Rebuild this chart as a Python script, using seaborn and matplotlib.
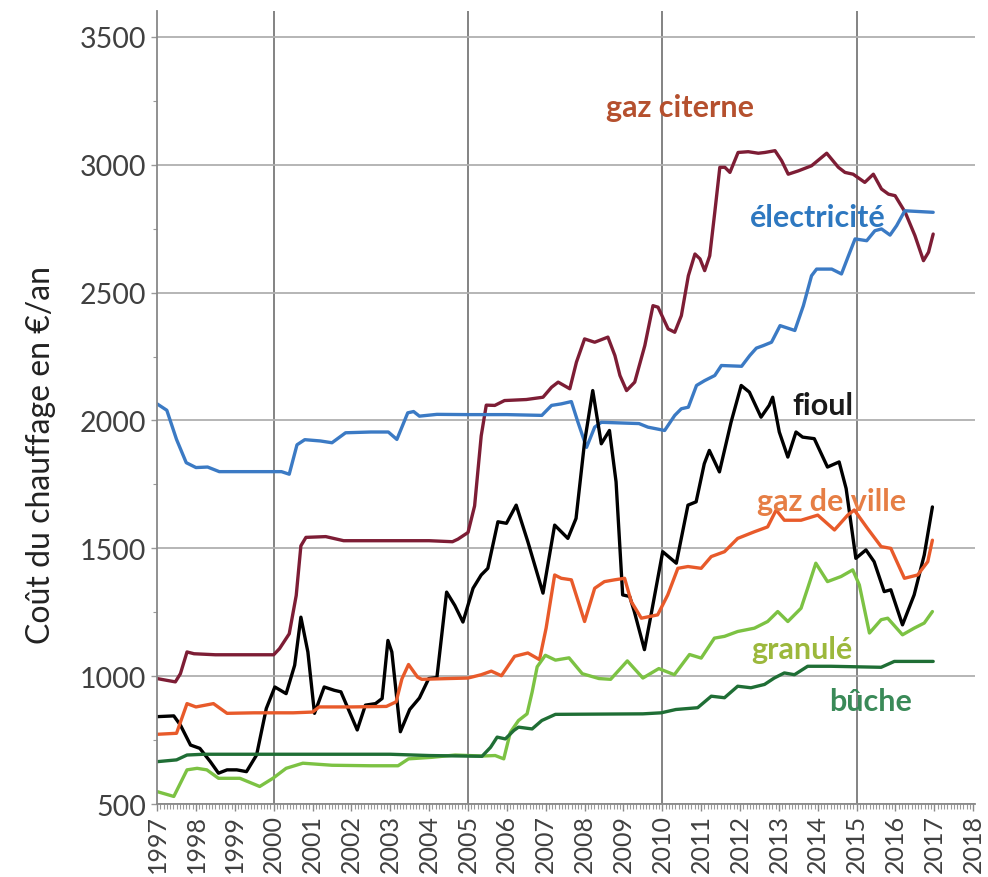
import numpy as np
import pandas as pd
import matplotlib
matplotlib.use("Agg")
import matplotlib.pyplot as plt
from matplotlib.ticker import MultipleLocator
import seaborn as sns

# ---------------- data ----------------
elec_t = [1997.0, 1997.25, 1997.5, 1997.75, 1998.0, 1998.3, 1998.6, 1999.5, 2000.2, 2000.4, 2000.6, 2000.8,
          2001.2, 2001.5, 2001.85, 2002.5, 2002.95, 2003.17, 2003.45, 2003.6, 2003.75, 2004.2, 2005.0, 2006.0,
          2006.9, 2007.15, 2007.4, 2007.66, 2007.83, 2008.05, 2008.26, 2008.43, 2009.0, 2009.4, 2009.63,
          2010.06, 2010.32, 2010.49, 2010.67, 2010.88, 2011.09, 2011.35, 2011.52, 2012.04, 2012.25, 2012.42,
          2012.6, 2012.81, 2013.03, 2013.41, 2013.63, 2013.84, 2013.97, 2014.36, 2014.61, 2014.79, 2014.96,
          2015.26, 2015.47, 2015.64, 2015.86, 2016.03, 2016.24, 2016.97]
elec_v = [2065, 2040, 1926, 1835, 1816, 1818, 1800, 1800, 1800, 1790, 1905, 1925,
          1920, 1913, 1952, 1955, 1955, 1926, 2030, 2035, 2017, 2024, 2023, 2023,
          2020, 2059, 2065, 2074, 1993, 1895, 1974, 1993, 1990, 1988, 1974,
          1961, 2020, 2046, 2052, 2137, 2156, 2176, 2215, 2212, 2254, 2283,
          2293, 2306, 2371, 2352, 2449, 2566, 2592, 2592, 2573, 2644, 2710,
          2703, 2742, 2749, 2725, 2762, 2820, 2814]

citerne_t = [1997.0, 1997.25, 1997.47, 1997.6, 1997.77, 1997.95, 1998.5, 1999.5, 2000.0, 2000.15, 2000.4,
             2000.58, 2000.7, 2000.83, 2001.34, 2001.8, 2003.0, 2004.0, 2004.6, 2004.74, 2005.0, 2005.17,
             2005.34, 2005.47, 2005.69, 2005.94, 2006.5, 2006.93, 2007.15, 2007.32, 2007.62, 2007.79, 2008.0,
             2008.26, 2008.6, 2008.78, 2008.91, 2009.08, 2009.29, 2009.55, 2009.76, 2009.89, 2010.15, 2010.32,
             2010.49, 2010.67, 2010.84, 2010.97, 2011.09, 2011.22, 2011.35, 2011.48, 2011.61, 2011.74, 2011.95,
             2012.21, 2012.47, 2012.64, 2012.9, 2013.07, 2013.24, 2013.5, 2013.84, 2014.23, 2014.53, 2014.7,
             2014.91, 2015.21, 2015.43, 2015.64, 2015.82, 2015.99, 2016.25, 2016.5, 2016.72, 2016.85, 2016.97]
citerne_v = [991, 984, 978, 1010, 1095, 1088, 1084, 1084, 1084, 1108, 1166,
             1316, 1510, 1543, 1546, 1530, 1530, 1530, 1526, 1536, 1562, 1666,
             1940, 2060, 2059, 2078, 2082, 2091, 2130, 2150, 2124, 2228, 2319,
             2306, 2326, 2254, 2176, 2117, 2150, 2293, 2449, 2443, 2358, 2345,
             2410, 2566, 2651, 2632, 2586, 2644, 2814, 2990, 2990, 2970, 3048,
             3051, 3045, 3048, 3055, 3016, 2963, 2976, 2996, 3045, 2990, 2970,
             2963, 2931, 2963, 2905, 2885, 2879, 2814, 2723, 2625, 2658, 2729]

fioul_t = [1997.0, 1997.43, 1997.6, 1997.86, 1998.1, 1998.37, 1998.58, 1998.8, 1999.05, 1999.3, 1999.56,
           1999.81, 2000.03, 2000.32, 2000.54, 2000.7, 2000.88, 2001.05, 2001.3, 2001.56, 2001.73, 2002.15,
           2002.36, 2002.62, 2002.79, 2002.94, 2003.04, 2003.26, 2003.5, 2003.75, 2003.99, 2004.2, 2004.45,
           2004.66, 2004.87, 2005.13, 2005.34, 2005.51, 2005.77, 2005.99, 2006.24, 2006.54, 2006.93, 2007.23,
           2007.57, 2007.78, 2008.0, 2008.21, 2008.43, 2008.64, 2008.81, 2008.98, 2009.16, 2009.28, 2009.54,
           2009.71, 2010.01, 2010.36, 2010.66, 2010.87, 2011.08, 2011.21, 2011.47, 2011.77, 2012.03, 2012.24,
           2012.54, 2012.75, 2012.84, 2013.01, 2013.23, 2013.44, 2013.61, 2013.91, 2014.25, 2014.55, 2014.73,
           2014.98, 2015.24, 2015.45, 2015.71, 2015.88, 2016.18, 2016.48, 2016.74, 2016.95]
fioul_v = [842, 845, 809, 731, 718, 666, 621, 634, 634, 627, 692,
           874, 958, 932, 1043, 1231, 1095, 855, 958, 945, 939, 790,
           887, 893, 913, 1140, 1095, 783, 870, 915, 991, 995, 1329,
           1277, 1212, 1344, 1396, 1422, 1604, 1598, 1669, 1526, 1325, 1591,
           1539, 1617, 1916, 2117, 1909, 1961, 1760, 1318, 1312, 1253, 1104,
           1240, 1487, 1442, 1669, 1682, 1831, 1883, 1799, 1994, 2137, 2111,
           2013, 2059, 2091, 1955, 1857, 1955, 1935, 1929, 1818, 1838, 1734,
           1461, 1494, 1448, 1331, 1338, 1201, 1318, 1474, 1662]

ville_t = [1997.0, 1997.5, 1997.77, 1998.0, 1998.45, 1998.8, 1999.5, 2000.5, 2001.0, 2001.17, 2002.0, 2002.9,
           2003.15, 2003.3, 2003.47, 2003.7, 2003.81, 2004.5, 2005.0, 2005.34, 2005.6, 2005.86, 2006.2, 2006.54,
           2006.84, 2007.01, 2007.23, 2007.4, 2007.66, 2008.0, 2008.26, 2008.51, 2008.77, 2009.03, 2009.2,
           2009.46, 2009.88, 2010.14, 2010.4, 2010.66, 2011.0, 2011.26, 2011.6, 2011.94, 2012.37, 2012.71,
           2012.93, 2013.14, 2013.57, 2014.0, 2014.43, 2014.77, 2014.94, 2015.28, 2015.63, 2015.88, 2016.23,
           2016.57, 2016.83, 2016.95]
ville_v = [773, 777, 893, 880, 893, 855, 857, 857, 860, 880, 880, 882,
           900, 990, 1046, 997, 988, 991, 993, 1006, 1020, 1002, 1078, 1091,
           1065, 1188, 1396, 1383, 1377, 1214, 1344, 1370, 1377, 1383, 1292,
           1227, 1240, 1318, 1422, 1429, 1422, 1468, 1487, 1539, 1565, 1584,
           1650, 1610, 1610, 1630, 1572, 1630, 1650, 1578, 1507, 1500, 1383,
           1396, 1448, 1532]

granule_t = [1997.0, 1997.43, 1997.77, 1998.03, 1998.28, 1998.58, 1999.13, 1999.64, 1999.98, 2000.32, 2000.75,
             2001.5, 2002.5, 2003.2, 2003.47, 2004.07, 2004.67, 2005.36, 2005.7, 2005.92, 2006.09, 2006.3,
             2006.52, 2006.65, 2006.78, 2006.99, 2007.25, 2007.6, 2007.94, 2008.37, 2008.67, 2009.1, 2009.5,
             2009.91, 2010.31, 2010.7, 2011.0, 2011.34, 2011.6, 2011.94, 2012.37, 2012.71, 2012.97, 2013.23,
             2013.57, 2013.74, 2013.95, 2014.25, 2014.6, 2014.9, 2015.07, 2015.33, 2015.63, 2015.8, 2016.18,
             2016.48, 2016.74, 2016.95]
granule_v = [549, 530, 634, 640, 634, 601, 601, 569, 601, 640, 660,
             652, 650, 650, 677, 683, 692, 688, 690, 677, 781, 827,
             853, 938, 1037, 1082, 1063, 1072, 1010, 991, 988, 1060, 993,
             1030, 1006, 1085, 1071, 1149, 1156, 1175, 1188, 1214, 1253, 1214,
             1266, 1344, 1442, 1370, 1390, 1416, 1357, 1169, 1221, 1227, 1162,
             1188, 1208, 1253]

buche_t = [1997.0, 1997.5, 1997.77, 1998.2, 2003.0, 2004.0, 2005.36, 2005.58, 2005.75, 2005.96, 2006.18,
           2006.3, 2006.65, 2006.9, 2007.25, 2009.5, 2009.97, 2010.35, 2010.91, 2011.26, 2011.6, 2011.94,
           2012.28, 2012.63, 2012.88, 2013.14, 2013.4, 2013.74, 2014.34, 2015.63, 2015.97, 2016.97]
buche_v = [666, 673, 692, 695, 695, 690, 687, 722, 762, 755, 788,
           801, 794, 827, 851, 853, 857, 870, 877, 922, 916, 961,
           955, 968, 993, 1013, 1006, 1039, 1039, 1035, 1058, 1058]

series_names = ["gaz citerne", "électricité", "fioul", "gaz de ville", "granulé", "bûche"]
line_colors = ["#7d1d35", "#3b7ac4", "#000000", "#e85a2a", "#7cc243", "#1f6e35"]
label_colors = ["#b5502e", "#2e78c0", "#1a1a1a", "#e67e45", "#9cb83c", "#3a8a58"]

x_tick_years = list(range(1997, 2019))
y_ticks = [500, 1000, 1500, 2000, 2500, 3000, 3500]
y_label = "Coût du chauffage en €/an"

# ---------------- build table ----------------
parts = []
for name, t, v in [("gaz citerne", citerne_t, citerne_v), ("électricité", elec_t, elec_v),
                   ("fioul", fioul_t, fioul_v), ("gaz de ville", ville_t, ville_v),
                   ("granulé", granule_t, granule_v), ("bûche", buche_t, buche_v)]:
    parts.append(pd.DataFrame({"annee": t, "cout": v, "energie": name}))
df = pd.concat(parts, ignore_index=True)

# ---------------- style ----------------
sns.set_style("white")
plt.rcParams["font.family"] = ["Lato", "DejaVu Sans"]

fig = plt.figure(figsize=(9.88, 8.78), dpi=100)
ax = fig.add_axes([0.159, 0.083, 0.828, 0.903])

# grid
ax.set_axisbelow(True)
ax.yaxis.grid(True, color="#b0b0b0", linewidth=1.3)
for yr in [2000, 2005, 2010, 2015]:
    ax.axvline(yr, color="#7a7a7a", linewidth=1.3, zorder=0)

sns.lineplot(data=df, x="annee", y="cout", hue="energie", hue_order=series_names,
             palette=dict(zip(series_names, line_colors)), estimator=None, sort=False,
             linewidth=2.4, legend=False, ax=ax)

ax.set_xlim(1997, 2018.05)
ax.set_ylim(500, 3600)

ax.set_xticks(x_tick_years)
ax.set_xticklabels([str(y) for y in x_tick_years], rotation=90, fontsize=18, color="#404040")
ax.xaxis.set_minor_locator(MultipleLocator(1 / 12))
ax.set_yticks(y_ticks)
ax.set_yticklabels([str(y) for y in y_ticks], fontsize=20.5, color="#404040")
ax.yaxis.set_minor_locator(MultipleLocator(250))

ax.tick_params(axis="x", which="major", length=5, width=1, color="#888888", pad=2, bottom=True)
ax.tick_params(axis="x", which="minor", length=3.5, width=0.8, color="#999999", bottom=True)
ax.tick_params(axis="y", which="major", length=4, width=1, color="#999999", pad=4, left=True)
ax.tick_params(axis="y", which="minor", length=3, width=0.8, color="#999999", left=True)

for s in ["top", "right"]:
    ax.spines[s].set_visible(False)
for s in ["left", "bottom"]:
    ax.spines[s].set_color("#888888")
    ax.spines[s].set_linewidth(1.3)

ax.set_xlabel("")
ax.set_ylabel(y_label, fontsize=23, color="#222222")
ax.yaxis.set_label_coords(-0.123, 0.441)

# direct labels
label_pos = {"gaz citerne": (2010.46, 3227), "électricité": (2014.0, 2797), "fioul": (2014.13, 2062),
             "gaz de ville": (2014.35, 1684), "granulé": (2013.6, 1105), "bûche": (2015.36, 902)}
for name, col in zip(series_names, label_colors):
    x, y = label_pos[name]
    ax.text(x, y, name, color=col, fontsize=22, fontweight="bold", ha="center", va="center")

fig.savefig("out.png", dpi=100)
